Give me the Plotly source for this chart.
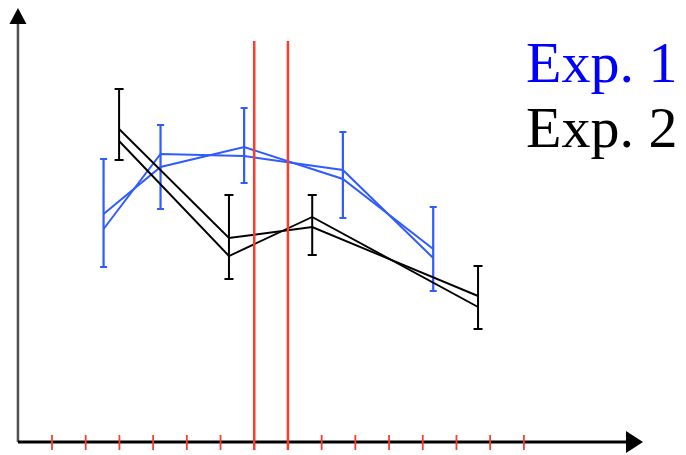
import plotly.graph_objects as go

# Tick positions along the horizontal axis (long red markers at 6 and 7)
tick_positions = list(range(15))
marker_lines = [6, 7]

# Exp. 1 (blue): error-bar run and its repeat
exp1_x = [1.53, 3.22, 5.70, 8.63, 11.31]
exp1_mean = [22.8, 27.5, 29.5, 26.3, 19.3]
exp1_repeat = [21.3, 28.8, 28.6, 27.2, 18.4]
exp1_err_plus = [5.5, 4.2, 3.9, 4.7, 4.2]
exp1_err_minus = [5.3, 4.2, 3.6, 3.9, 4.2]

# Exp. 2 (black): error-bar run and its repeat
exp2_x = [1.99, 5.25, 7.72, 12.64]
exp2_mean = [31.3, 20.4, 21.5, 14.6]
exp2_repeat = [30.1, 18.6, 22.5, 13.5]
exp2_err_plus = [4.0, 4.3, 3.2, 3.0]
exp2_err_minus = [3.1, 4.1, 2.8, 3.3]

BLUE = "#2f5bff"
RED = "#ff3b2a"
X_MIN, X_MAX = -1.543, 18.81
Y_MIN, Y_MAX = -1.3, 44.2
AXIS_X0, AXIS_X_END = -1.01, 17.03
AXIS_Y_END, Y_ARROW_TIP = 41.9, 43.4

fig = go.Figure()

fig.add_trace(go.Scatter(
    x=exp1_x, y=exp1_repeat, mode="lines",
    line=dict(color=BLUE, width=2), hoverinfo="skip"))
fig.add_trace(go.Scatter(
    x=exp1_x, y=exp1_mean, mode="lines",
    line=dict(color=BLUE, width=2),
    error_y=dict(type="data", symmetric=False, array=exp1_err_plus,
                 arrayminus=exp1_err_minus, color=BLUE, thickness=2.2,
                 width=3.5)))
fig.add_trace(go.Scatter(
    x=exp2_x, y=exp2_repeat, mode="lines",
    line=dict(color="black", width=1.9), hoverinfo="skip"))
fig.add_trace(go.Scatter(
    x=exp2_x, y=exp2_mean, mode="lines",
    line=dict(color="black", width=1.9),
    error_y=dict(type="data", symmetric=False, array=exp2_err_plus,
                 arrayminus=exp2_err_minus, color="black", thickness=2,
                 width=4.5)))

shapes = []
# axes
shapes.append(dict(type="line", x0=AXIS_X0, x1=AXIS_X0, y0=0, y1=AXIS_Y_END,
                   line=dict(color="#505050", width=2.5), layer="below"))
shapes.append(dict(type="line", x0=AXIS_X0, x1=AXIS_X_END, y0=0, y1=0,
                   line=dict(color="black", width=3), layer="below"))
# arrowheads (pixel-sized, anchored at the axis ends)
shapes.append(dict(type="path", xsizemode="pixel", ysizemode="pixel",
                   xanchor=AXIS_X0, yanchor=Y_ARROW_TIP,
                   path="M 0 0 L -8.5 -16 L 8.5 -16 Z",
                   fillcolor="black", line=dict(width=0)))
shapes.append(dict(type="path", xsizemode="pixel", ysizemode="pixel",
                   xanchor=AXIS_X_END, yanchor=0,
                   path="M 0 -11 L 17 0 L 0 11 Z",
                   fillcolor="black", line=dict(width=0)))
# red ticks and the two long marker lines
for t in tick_positions:
    if t in marker_lines:
        shapes.append(dict(type="line", x0=t, x1=t, y0=-0.8, y1=40.1,
                           line=dict(color=RED, width=2.5)))
    else:
        shapes.append(dict(type="line", x0=t, x1=t, y0=-0.8, y1=0.7,
                           line=dict(color=RED, width=1.8)))

legend_font = "Liberation Serif, Times New Roman, serif"
annotations = [
    dict(text="Exp. 1", x=524 / 686, y=1 - 63 / 455, xref="paper", yref="paper",
         xanchor="left", yanchor="middle", showarrow=False,
         font=dict(family=legend_font, size=58, color="#0000ff")),
    dict(text="Exp. 2", x=524 / 686, y=1 - 127 / 455, xref="paper", yref="paper",
         xanchor="left", yanchor="middle", showarrow=False,
         font=dict(family=legend_font, size=58, color="black")),
]

fig.update_layout(
    width=686, height=455,
    margin=dict(l=0, r=0, t=0, b=0),
    paper_bgcolor="white", plot_bgcolor="white",
    showlegend=False,
    xaxis=dict(range=[X_MIN, X_MAX], visible=False, fixedrange=True),
    yaxis=dict(range=[Y_MIN, Y_MAX], visible=False, fixedrange=True),
    shapes=shapes, annotations=annotations,
)

fig.write_html("out.html")
